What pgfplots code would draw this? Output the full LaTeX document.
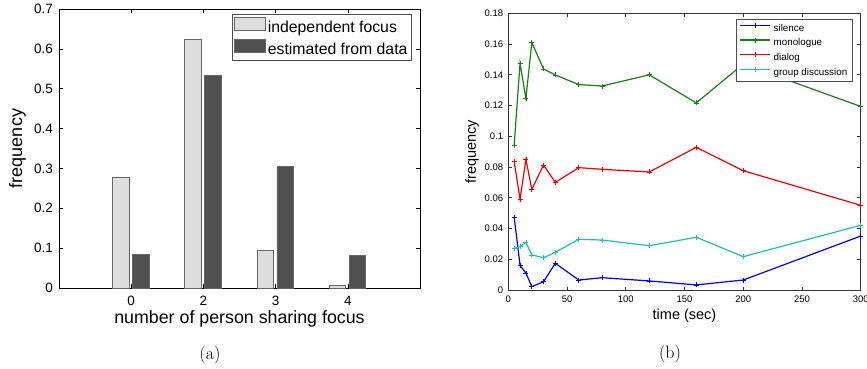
\documentclass[border=0pt]{standalone}
\usepackage{fontspec}
\usepackage{pgfplots}
\pgfplotsset{compat=1.18}
\newfontfamily\arial{Liberation Sans}
\definecolor{lightbar}{RGB}{221,221,221}
\definecolor{darkbar}{RGB}{80,80,80}
\definecolor{mblue}{RGB}{0,0,235}
\definecolor{mgreen}{RGB}{20,130,20}
\definecolor{mred}{RGB}{240,0,0}
\definecolor{mcyan}{RGB}{30,190,190}
\begin{document}
\begin{tikzpicture}
\path[use as bounding box] (0pt,0pt) rectangle (867pt,368pt);
% ---------------- (a) ----------------
\begin{axis}[
  at={(59pt,80pt)}, anchor=south west, scale only axis,
  width=361pt, height=279pt,
  xmin=0, xmax=5, ymin=0, ymax=0.7,
  xtick={1,2,3,4}, xticklabels={0,2,3,4},
  ytick={0,0.1,0.2,0.3,0.4,0.5,0.6,0.7},
  tick align=inside, major tick length=4pt,
  axis line style={black, line width=0.8pt},
  every tick/.style={black, line width=0.6pt},
  /pgf/number format/assume math mode=true,
  /pgf/number format/fixed,
  ticklabel style={font=\arial\fontsize{13.5}{13.5}\selectfont},
  yticklabel style={inner sep=0pt, xshift=-6pt},
  xticklabel style={inner sep=0pt, yshift=-8pt},
  xlabel={number of person sharing focus},
  xlabel style={at={(axis description cs:0.5,-0.129)}, anchor=base, font=\arial\fontsize{17.8}{17.8}\selectfont},
  ylabel={frequency},
  ylabel style={at={(axis description cs:-0.115,0.5)}, anchor=center, font=\arial\fontsize{18}{18}\selectfont},
  legend cell align=left,
  legend style={at={(axis description cs:0.978,0.982)}, anchor=north east,
    draw=black!70, line width=0.6pt, inner sep=2.5pt, row sep=3pt,
    font=\arial\fontsize{15.8}{15.8}\selectfont,
    nodes={inner sep=1.8pt}},
  legend image code/.code={\draw[#1, line width=0.7pt] (0pt,-2.5pt) rectangle (31pt,10.5pt);},
]
\addplot[ybar, bar width=16.5pt, bar shift=-10.5pt, fill=lightbar, draw=black!60, line width=0.7pt]
  coordinates {(1,0.278) (2,0.624) (3,0.094) (4,0.006)};
\addlegendentry{independent focus}
\addplot[ybar, bar width=16.5pt, bar shift=9.5pt, fill=darkbar, draw=black!60, line width=0.7pt]
  coordinates {(1,0.085) (2,0.533) (3,0.304) (4,0.081)};
\addlegendentry{estimated from data}
\end{axis}
\node[anchor=base, font=\fontsize{18}{18}\selectfont] at (210pt,8.8pt) {(a)};
% ---------------- (b) ----------------
\begin{axis}[
  at={(508.3pt,78pt)}, anchor=south west, scale only axis,
  width=352.4pt, height=276.7pt,
  xmin=0, xmax=300, ymin=0, ymax=0.18,
  xtick={0,50,100,150,200,250,300},
  ytick={0,0.02,0.04,0.06,0.08,0.1,0.12,0.14,0.16,0.18},
  tick align=inside, major tick length=3.5pt,
  axis line style={black!80, line width=0.7pt},
  every tick/.style={black!80, line width=0.6pt},
  /pgf/number format/assume math mode=true,
  /pgf/number format/fixed, /pgf/number format/precision=2,
  ticklabel style={font=\arial\fontsize{9.5}{9.5}\selectfont},
  yticklabel style={inner sep=0pt, xshift=-5pt},
  xticklabel style={inner sep=0pt, yshift=-6pt},
  xlabel={time (sec)},
  xlabel style={at={(axis description cs:0.5,-0.105)}, anchor=base, font=\arial\fontsize{14.5}{14.5}\selectfont},
  ylabel={frequency},
  ylabel style={at={(axis description cs:-0.103,0.5)}, anchor=center, font=\arial\fontsize{14.5}{14.5}\selectfont},
  legend cell align=left,
  legend style={at={(axis description cs:0.976,0.979)}, anchor=north east,
    draw=black!70, line width=0.6pt, inner sep=3.5pt, row sep=3.6pt,
    font=\arial\fontsize{9.8}{9.8}\selectfont,
    nodes={inner sep=1.2pt},
    /tikz/every odd column/.append style={column sep=2pt}},
  legend image code/.code={\draw[mark repeat=2,mark phase=2,#1] plot coordinates {(0pt,3pt) (15pt,3pt) (30pt,3pt)};},
  every axis plot/.append style={line width=1.2pt, mark=+, mark size=2.5pt, mark options={line width=0.8pt}},
]
\addplot[color=mblue] coordinates {(5,0.0473) (10,0.0160) (15,0.0110) (20,0.0022) (30,0.0054) (40,0.0174) (60,0.0065) (80,0.0080) (120,0.0059) (160,0.0033) (200,0.0065) (300,0.0351)};
\addlegendentry{silence}
\addplot[color=mgreen] coordinates {(5,0.0943) (10,0.1475) (15,0.1245) (20,0.1610) (30,0.1438) (40,0.1399) (60,0.1336) (80,0.1327) (120,0.1400) (160,0.1217) (200,0.1470) (300,0.1194)};
\addlegendentry{monologue}
\addplot[color=mred] coordinates {(5,0.0837) (10,0.0590) (15,0.0850) (20,0.0655) (30,0.0813) (40,0.0700) (60,0.0796) (80,0.0785) (120,0.0768) (160,0.0928) (200,0.0776) (300,0.0551)};
\addlegendentry{dialog}
\addplot[color=mcyan] coordinates {(5,0.0271) (10,0.0282) (15,0.0310) (20,0.0228) (30,0.0210) (40,0.0245) (60,0.0330) (80,0.0325) (120,0.0288) (160,0.0343) (200,0.0217) (300,0.0421)};
\addlegendentry{group discussion}
\end{axis}
\node[anchor=base, font=\fontsize{18}{18}\selectfont] at (670pt,10pt) {(b)};
\end{tikzpicture}
\end{document}
